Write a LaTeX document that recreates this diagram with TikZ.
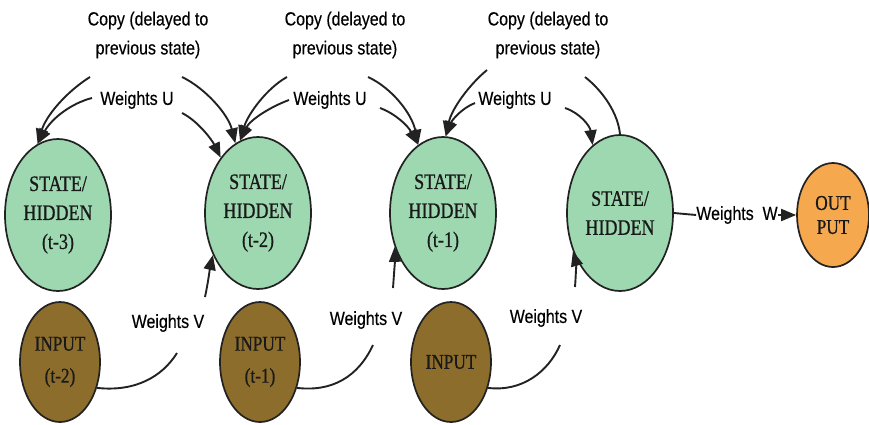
\documentclass[tikz,border=0pt]{standalone}
\usepackage{fontspec}
\usetikzlibrary{shapes.geometric,arrows.meta}
\newfontfamily\lblfont[FakeStretch=0.84,FakeBold=0.3]{Liberation Sans}
\newfontfamily\cellfont[FakeStretch=0.82,FakeBold=0.8]{Liberation Serif}
\definecolor{stategreen}{HTML}{9ED8B1}
\definecolor{inputbrown}{HTML}{8C6D2B}
\definecolor{outorange}{HTML}{F5A84E}
\definecolor{ink}{HTML}{222222}
\begin{document}
\begin{tikzpicture}[x=1pt,y=1pt,
  cell/.style={ellipse, draw=ink, line width=1.7pt, inner sep=0pt, align=center,
    font=\cellfont\fontsize{22}{29}\selectfont, text=black!90},
  statecell/.style={cell, fill=stategreen, minimum width=106pt, minimum height=152pt},
  inputcell/.style={cell, fill=inputbrown, minimum width=80pt, minimum height=120pt,
    font=\cellfont\fontsize{21}{32}\selectfont},
  outcell/.style={cell, fill=outorange, minimum width=72pt, minimum height=104pt,
    font=\cellfont\fontsize{21}{24}\selectfont},
  lbl/.style={align=center, inner sep=0pt, font=\lblfont\fontsize{19}{29}\selectfont},
  link/.style={draw=ink, line width=1.9pt},
  arr/.style={link, -{Triangle[length=15pt,width=12pt]}}
]
% the page runs from y=0 at the top down to y=-424
\useasboundingbox (0,0) rectangle (869,-424);

% hidden states, inputs and output
\node[statecell] (s1) at (58,-215)  {STATE/\\HIDDEN\\(t-3)};
\node[statecell] (s2) at (258,-213) {STATE/\\HIDDEN\\(t-2)};
\node[statecell] (s3) at (443,-213) {STATE/\\HIDDEN\\(t-1)};
\node[statecell, minimum height=156pt] (s4) at (620,-213) {STATE/\\HIDDEN};
\node[outcell] (out) at (833,-215) {OUT\\PUT};
\node[inputcell] (i1) at (60,-362)  {INPUT\\(t-2)};
\node[inputcell] (i2) at (260,-362) {INPUT\\(t-1)};
\node[inputcell] (i3) at (451,-362) {INPUT};

% labels
\node[lbl] (cp1) at (148,-35) {Copy (delayed to\\previous state)};
\node[lbl] (cp2) at (345,-35) {Copy (delayed to\\previous state)};
\node[lbl] (cp3) at (548,-35) {Copy (delayed to\\previous state)};
\node[lbl] (wu1) at (137,-100) {Weights U};
\node[lbl] (wu2) at (330,-100) {Weights U};
\node[lbl] (wu3) at (515,-100) {Weights U};
\node[lbl] (wv1) at (168,-323) {Weights V};
\node[lbl] (wv2) at (366,-320) {Weights V};
\node[lbl] (wv3) at (546,-318) {Weights V};
\node[lbl] (ww) at (737,-215) {Weights~~W};

% free ends of the connectors
\coordinate (c1r) at (90,-77);   \coordinate (u1r) at (92,-98);
\coordinate (c2l) at (182,-77);  \coordinate (u2l) at (182,-113);
\coordinate (c2r) at (287,-77);  \coordinate (u2r) at (289,-100);
\coordinate (c3l) at (368,-77);  \coordinate (u3l) at (380,-108);
\coordinate (c3r) at (487,-70);  \coordinate (u3r) at (475,-103);
\coordinate (c4l) at (585,-77);  \coordinate (u4l) at (565,-108);
\coordinate (v1a) at (177,-353); \coordinate (v1b) at (205,-297);
\coordinate (v2a) at (373,-345); \coordinate (v2b) at (393,-288);
\coordinate (v3a) at (560,-345); \coordinate (v3b) at (575,-287);

% recurrent copies and U weights into each state
\draw[arr] (c1r) .. controls (66,-92) and (46,-116) .. (s1.106);
\draw[arr] (u1r) .. controls (72,-103) and (52,-118) .. (s1.106);

\draw[arr] (c2l) .. controls (205,-88) and (228,-114) .. (s2.108);
\draw[arr] (u2l) .. controls (198,-121) and (212,-140) .. (s2.124);
\draw[arr] (c2r) .. controls (267,-88) and (248,-114) .. (s2.104);
\draw[arr] (u2r) .. controls (270,-107) and (250,-120) .. (s2.104);

\draw[arr] (c3l) .. controls (392,-88) and (412,-114) .. (s3.110);
\draw[arr] (u3l) .. controls (396,-114) and (408,-126) .. (s3.110);
\draw[arr] (c3r) .. controls (470,-84) and (452,-108) .. (s3.88);
\draw[arr] (u3r) .. controls (462,-108) and (452,-120) .. (s3.88);

\draw[link] (c4l) .. controls (604,-92) and (618,-114) .. (s4.90);
\draw[arr] (u4l) .. controls (580,-113) and (590,-126) .. (s4.112);

% input weights V
\draw[link] (i1.-35) .. controls (135,-392) and (162,-377) .. (v1a);
\draw[arr] (v1b) .. controls (208,-283) and (210,-268) .. (s2.223);
\draw[link] (i2.-35) .. controls (332,-392) and (358,-377) .. (v2a);
\draw[arr] (v2b) .. controls (394,-274) and (395,-260) .. (s3.215);
\draw[link] (i3.-35) .. controls (522,-392) and (548,-372) .. (v3a);
\draw[arr] (v3b) .. controls (576,-274) and (576,-262) .. (s4.219);

% output weights W
\draw[link] (s4.east) -- (ww.west);
\draw[arr] (ww.east) -- (out.west);
\end{tikzpicture}
\end{document}
